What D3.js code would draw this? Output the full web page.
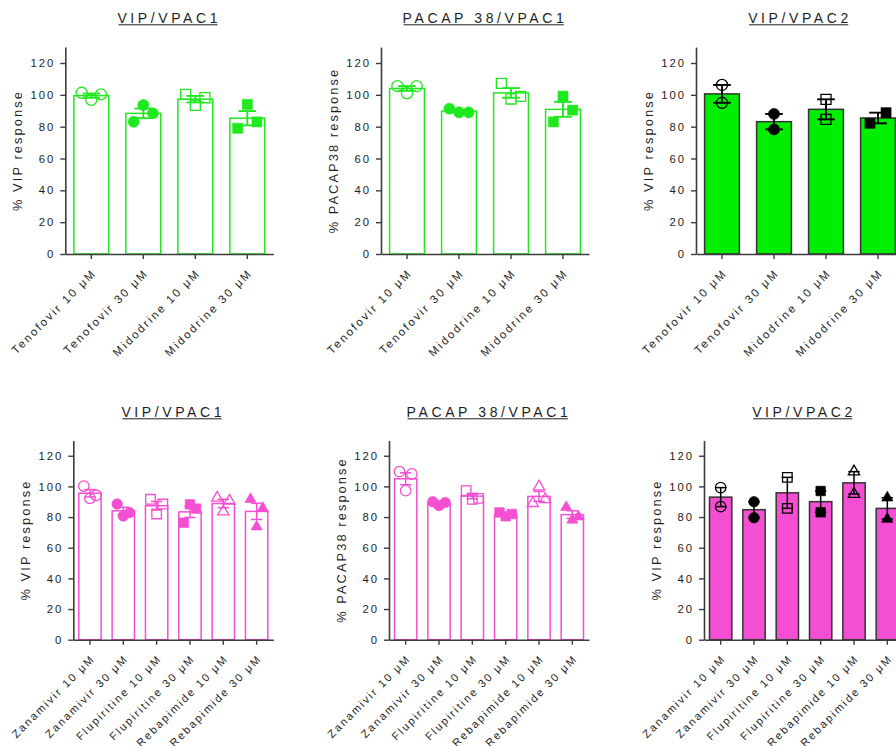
<!DOCTYPE html>
<html>
<head>
<meta charset="utf-8">
<script src="https://cdn.jsdelivr.net/npm/d3@7"></script>
<style>
  html, body { margin: 0; padding: 0; background: #fff; }
  svg { display: block; font-family: "Liberation Sans", Arial, sans-serif; }
</style>
</head>
<body>
<svg id="chart" width="896" height="746"></svg>
<script>
// Categories for each row of panels
const topCategories = ["Tenofovir 10 μM", "Tenofovir 30 μM", "Midodrine 10 μM", "Midodrine 30 μM"];
const bottomCategories = ["Zanamivir 10 μM", "Zanamivir 30 μM", "Flupiritine 10 μM",
                          "Flupiritine 30 μM", "Rebapimide 10 μM", "Rebapimide 30 μM"];
const yTicks = [0, 20, 40, 60, 80, 100, 120];

// Replicate responses (%) per category
const vipVpac1Top = [[101.3, 96.9, 100.3], [83.1, 93.6, 88.4], [100.3, 93.4, 98.2], [79.0, 94.0, 83.0]];
const pacapVpac1Top = [[105.5, 101.0, 105.5], [91.3, 89.0, 89.0], [107.2, 97.4, 99.0], [83.0, 99.2, 90.4]];
const vipVpac2Top = [[106.2, 95.0], [88.0, 78.3], [97.2, 84.6], [82.1, 88.8]];

const vipVpac1Bottom = [[100.2, 92.2, 94.2], [88.5, 80.7, 82.9], [91.6, 82.0, 88.5],
                        [76.3, 88.3, 85.5], [92.5, 83.5, 90.5], [91.6, 73.7, 85.7]];
const pacapVpac1Bottom = [[109.6, 97.2, 108.1], [90.0, 87.5, 89.5], [97.2, 91.6, 92.2],
                          [83.0, 80.5, 82.0], [89.0, 99.8, 91.6], [86.4, 78.1, 80.2]];
const vipVpac2Bottom = [[99.2, 86.8], [90.0, 79.6], [105.9, 85.7], [97.0, 83.1], [109.6, 95.0], [92.6, 78.7]];

const titles = ["VIP/VPAC1", "PACAP 38/VPAC1", "VIP/VPAC2"];
const yLabels = ["% VIP response", "% PACAP38 response", "% VIP response"];

const GREEN = "#1fe81f";
const GREEN_FILL = "#00ee00";
const MAGENTA = "#f44fd3";
const AXIS = "#3c3c3c";
const TEXT = "#1e1e1e";

// marker per category: symbol + open/filled
const topMarkers = [["circle", false], ["circle", true], ["square", false], ["square", true]];
const bottomMarkers = [["circle", false], ["circle", true], ["square", false], ["square", true],
                       ["triangle", false], ["triangle", true]];

const rows = {
  top:    { y0: 254, yTop: 47.1, titleY: 23, width: 208, cats: topCategories, markers: topMarkers,
            err: 1.9, ms: 1.05, labelSize: 11.4, labelSpacing: 2.2 },
  bottom: { y0: 639.7, yTop: 440.4, titleY: 417, width: 200, cats: bottomCategories, markers: bottomMarkers,
            err: 1.5, ms: 0.95, labelSize: 11, labelSpacing: 2.0 }
};

const panels = [
  { row: "top", x0: 65.3, title: titles[0], ylab: yLabels[0], reps: vipVpac1Top, color: GREEN, filled: false },
  { row: "top", x0: 381, title: titles[1], ylab: yLabels[1], reps: pacapVpac1Top, color: GREEN, filled: false },
  { row: "top", x0: 696, title: titles[2], ylab: yLabels[2], reps: vipVpac2Top, color: GREEN_FILL, filled: true },
  { row: "bottom", x0: 73.3, title: titles[0], ylab: yLabels[0], reps: vipVpac1Bottom, color: MAGENTA, filled: false },
  { row: "bottom", x0: 389, title: titles[1], ylab: yLabels[1], reps: pacapVpac1Bottom, color: MAGENTA, filled: false },
  { row: "bottom", x0: 704, title: titles[2], ylab: yLabels[2], reps: vipVpac2Bottom, color: MAGENTA, filled: true }
];

const svg = d3.select("#chart");

const symbolType = { circle: d3.symbolCircle, square: d3.symbolSquare, triangle: d3.symbolTriangle };
const symbolSize = { circle: 92, square: 96, triangle: 58 };

function drawPanel(p) {
  const r = rows[p.row];
  const g = svg.append("g");

  const x = d3.scaleBand().domain(r.cats).range([p.x0, p.x0 + r.width])
    .paddingInner(0.33).paddingOuter(0.165);
  const y = d3.scaleLinear().domain([0, 130]).range([r.y0, r.yTop]);
  const step = x.step();

  const stats = p.reps.map((vals, i) => {
    const mean = d3.mean(vals);
    const sem = d3.deviation(vals) / Math.sqrt(vals.length);
    return { cat: r.cats[i], vals, mean, sem, i };
  });

  // bars
  g.selectAll("rect.bar").data(stats).join("rect")
    .attr("class", "bar")
    .attr("x", d => x(d.cat))
    .attr("y", d => y(d.mean))
    .attr("width", x.bandwidth())
    .attr("height", d => y(0) - y(d.mean))
    .attr("fill", p.filled ? p.color : "none")
    .attr("stroke", p.filled ? "#333" : p.color)
    .attr("stroke-width", 1.5);

  // replicate points, spread sideways when they crowd each other
  const markColor = p.filled ? "#000" : p.color;
  stats.forEach(d => {
    const cx = x(d.cat) + x.bandwidth() / 2;
    const [shape, solid] = r.markers[d.i];
    const n = d.vals.length;
    let offs;
    if (n === 3) offs = [-1, 0, 1].map(k => k * 0.185 * step);
    else {
      const gap = Math.abs(y(d.vals[0]) - y(d.vals[1]));
      offs = gap < 12 ? [-0.155 * step, 0.155 * step] : [0, 0];
    }
    g.selectAll(null).data(d.vals).join("path")
      .attr("transform", (v, k) => `translate(${cx + offs[k]},${y(v)})`)
      .attr("d", d3.symbol().type(symbolType[shape]).size(symbolSize[shape] * r.ms))
      .attr("fill", solid ? markColor : "none")
      .attr("stroke", markColor)
      .attr("stroke-width", solid ? 0.6 : 1.3);
  });

  // mean ± SEM
  const errColor = p.filled ? "#000" : p.color;
  const capW = 0.34 * step;
  stats.forEach(d => {
    const cx = x(d.cat) + x.bandwidth() / 2;
    const lo = y(d.mean - d.sem), hi = y(d.mean + d.sem);
    const eg = g.append("g").attr("stroke", errColor).attr("stroke-width", r.err);
    eg.append("line").attr("x1", cx).attr("x2", cx).attr("y1", lo).attr("y2", hi);
    eg.append("line").attr("x1", cx - capW / 2).attr("x2", cx + capW / 2).attr("y1", lo).attr("y2", lo);
    eg.append("line").attr("x1", cx - capW / 2).attr("x2", cx + capW / 2).attr("y1", hi).attr("y2", hi);
  });

  // y axis
  const ya = g.append("g").attr("transform", `translate(${p.x0},0)`)
    .call(d3.axisLeft(y).tickValues(yTicks).tickSize(5).tickSizeOuter(0).tickPadding(5));
  ya.select(".domain").attr("stroke", AXIS).attr("stroke-width", 1.6);
  ya.selectAll(".tick line").attr("stroke", AXIS).attr("stroke-width", 1.4);
  ya.selectAll(".tick text").attr("fill", TEXT).attr("font-size", 11.3)
    .attr("letter-spacing", "2px").attr("font-family", "Liberation Sans, Arial, sans-serif");

  // x axis with slanted category labels
  const xa = g.append("g").attr("transform", `translate(0,${r.y0})`)
    .call(d3.axisBottom(x).tickSize(5).tickSizeOuter(0));
  xa.select(".domain").attr("stroke", AXIS).attr("stroke-width", 1.6);
  xa.selectAll(".tick line").attr("stroke", AXIS).attr("stroke-width", 1.4);
  xa.selectAll(".tick text")
    .attr("fill", TEXT).attr("font-size", r.labelSize).attr("letter-spacing", r.labelSpacing + "px")
    .attr("font-family", "Liberation Sans, Arial, sans-serif")
    .attr("text-anchor", "end")
    .attr("x", 3).attr("y", 17).attr("dy", "0.35em")
    .attr("transform", "rotate(-45, 3, 17)");

  // y label
  const midY = (r.y0 + r.yTop) / 2;
  g.append("text")
    .attr("transform", `translate(${p.x0 - 43},${midY}) rotate(-90)`)
    .attr("text-anchor", "middle")
    .attr("font-size", 12.8).attr("letter-spacing", "2.1px")
    .attr("fill", TEXT)
    .text(p.ylab);

  // underlined title
  const t = g.append("text")
    .attr("x", p.x0 + r.width / 2).attr("y", r.titleY)
    .attr("text-anchor", "middle")
    .attr("font-size", 14).attr("letter-spacing", "3.6px")
    .attr("fill", TEXT)
    .text(p.title);
  const bb = t.node().getBBox();
  g.append("line")
    .attr("x1", bb.x + 1).attr("x2", bb.x + bb.width - 3.6)
    .attr("y1", r.titleY + 1.8).attr("y2", r.titleY + 1.8)
    .attr("stroke", TEXT).attr("stroke-width", 1);
}

panels.forEach(drawPanel);
</script>
</body>
</html>
